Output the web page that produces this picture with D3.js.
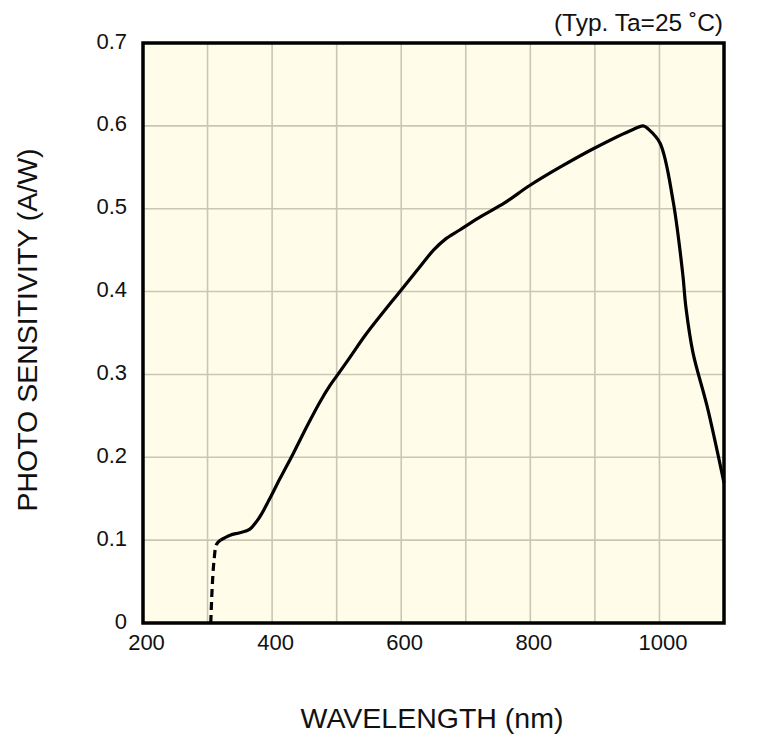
<!DOCTYPE html>
<html><head><meta charset="utf-8">
<script src="https://cdn.jsdelivr.net/npm/d3@7"></script>
<style>body{margin:0;background:#fff}text{font-family:"Liberation Sans",Arial,sans-serif;fill:#111}</style>
</head><body><svg id="c" width="782" height="744"></svg>
<script>
const xTicks=[200,400,600,800,1000];
const yTicks=[0,0.1,0.2,0.3,0.4,0.5,0.6,0.7];
const xGrid=[300,400,500,600,700,800,900,1000];
const dashedWl=[305,307,310,314,320];
const dashedVal=[0,0.04,0.075,0.095,0.1];
const solidWl=[320,335,350,365,380,395,412,433,455,475,490,500,520,546,600,629,650,668,690,720,760,799,848,899,960,975,983,1001,1021,1036,1041,1052,1074,1100];
const solidVal=[0.1,0.106,0.109,0.113,0.127,0.148,0.174,0.205,0.239,0.268,0.287,0.298,0.320,0.349,0.402,0.430,0.450,0.463,0.474,0.489,0.507,0.528,0.551,0.573,0.596,0.600,0.596,0.579,0.51,0.422,0.381,0.326,0.261,0.169];

const svg=d3.select("#c");
const L=143,R=724,T=43,B=623;
const x=d3.scaleLinear().domain([200,1100]).range([L,R]);
const y=d3.scaleLinear().domain([0,0.7]).range([B,T]);
svg.append("rect").attr("x",L).attr("y",T).attr("width",R-L).attr("height",B-T).attr("fill","#fffde9");
svg.append("g").selectAll("line").data(xGrid).join("line")
 .attr("x1",d=>x(d)).attr("x2",d=>x(d)).attr("y1",T).attr("y2",B)
 .attr("stroke","#c9c6b4").attr("stroke-width",1.6);
svg.append("g").selectAll("line").data(yTicks.slice(1,-1)).join("line")
 .attr("y1",d=>y(d)).attr("y2",d=>y(d)).attr("x1",L).attr("x2",R)
 .attr("stroke","#c9c6b4").attr("stroke-width",1.6);
const line=d3.line().x(d=>x(d[0])).y(d=>y(d[1])).curve(d3.curveCatmullRom.alpha(0.5));
svg.append("path").datum(dashedWl.map((w,i)=>[w,dashedVal[i]])).attr("d",line)
 .attr("fill","none").attr("stroke","#000").attr("stroke-width",3.2).attr("stroke-dasharray","8,5");
svg.append("path").datum(solidWl.map((w,i)=>[w,solidVal[i]])).attr("d",line)
 .attr("fill","none").attr("stroke","#000").attr("stroke-width",3.2).attr("stroke-linejoin","round");
svg.append("rect").attr("x",L).attr("y",T).attr("width",R-L).attr("height",B-T)
 .attr("fill","none").attr("stroke","#000").attr("stroke-width",3.5);
const xa=d3.axisBottom(x).tickValues(xTicks).tickSize(0).tickPadding(11).tickFormat(d3.format("d"));
const gx=svg.append("g").attr("transform",`translate(3,${B})`).call(xa);
gx.select(".domain").remove();
gx.selectAll("text").attr("font-size",22).style("font-family","Liberation Sans, Arial, sans-serif").attr("fill","#111");
const ya=d3.axisLeft(y).tickValues(yTicks).tickSize(0).tickPadding(16).tickFormat(d=>d===0?"0":d3.format(".1f")(d));
const gy=svg.append("g").attr("transform",`translate(${L},-2)`).call(ya);
gy.select(".domain").remove();
gy.selectAll("text").attr("font-size",22).style("font-family","Liberation Sans, Arial, sans-serif").attr("fill","#111");
svg.append("text").attr("x",723).attr("y",31).attr("text-anchor","end").attr("font-size",24.5).text("(Typ. Ta=25 ˚C)");
svg.append("text").attr("x",432).attr("y",728).attr("text-anchor","middle").attr("font-size",28.5).text("WAVELENGTH (nm)");
svg.append("text").attr("transform","translate(37,330) rotate(-90)").attr("text-anchor","middle").attr("font-size",28.5).text("PHOTO SENSITIVITY (A/W)");
</script></body></html>
